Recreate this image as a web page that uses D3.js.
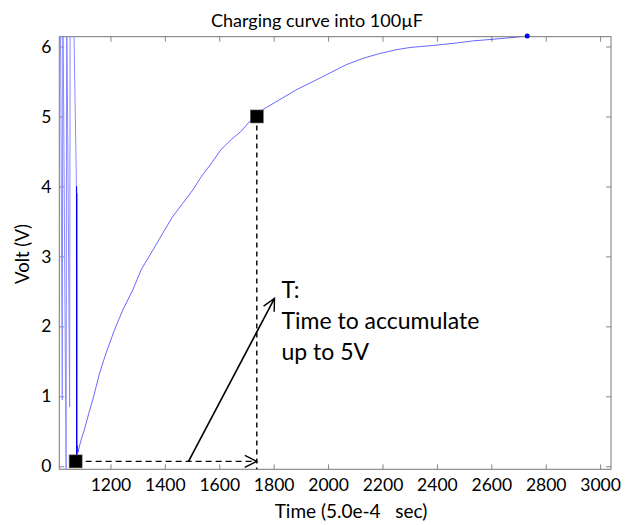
<!DOCTYPE html>
<html>
<head>
<meta charset="utf-8">
<script src="https://cdn.jsdelivr.net/npm/d3@7"></script>
<style>
body{margin:0;background:#fff}
text{font-family:Lato, "Open Sans", sans-serif;fill:#000}
</style>
</head>
<body>
<svg id="chart" width="634" height="525"></svg>
<script>
// data: [time, volt]
var burst = [[1012,5.3],[1016,6.9],[1023,0.95],[1025,6.9],[1037,-0.1],[1039,6.9],[1050,0.85],[1052,6.9],[1063,6.9],[1075,4.0]]
var settle = [[1075,4.0],[1075.3,0.1],[1075.6,4.0],[1075.9,0.1],[1076.2,3.9],[1076.5,0.12]]
var charge = [[1076.5,0.12],[1078,0.3],[1081,0.2],[1090,0.35],[1104,0.52],[1120,0.75],[1135,0.95],[1160,1.33],
    [1184,1.62],[1215,1.95],[1245,2.23],[1282,2.52],[1313,2.81],[1356,3.09],[1392,3.33],[1429,3.57],[1466,3.76],
    [1503,3.95],[1534,4.14],[1571,4.33],[1607,4.53],[1644,4.67],[1681,4.79],[1712,4.93],[1736,5.0],[1761,5.10],
    [1822,5.24],[1883,5.38],[1945,5.50],[2006,5.62],[2067,5.74],[2128,5.83],[2190,5.90],[2252,5.955],[2300,5.985],
    [2386,6.015],[2472,6.05],[2533,6.08],[2595,6.10],[2656,6.12],[2732,6.15]]
var marks = [[1072,0.07],[1738,5.0]]
var xticks = [1200,1400,1600,1800,2000,2200,2400,2600,2800,3000]
var yticks = [0,1,2,3,4,5,6]
var arrowFrom = [1487,0.07], arrowTo = [1803,2.40]
var note = ['T:','Time to accumulate','up to 5V']

var margins={left:59.3, top:36.7, right:23, bottom:55.7}
var svgW=634, svgH=525
var chartW=svgW-margins.left-margins.right
var chartH=svgH-margins.top-margins.bottom

var svg=d3.select('#chart')
var defs=svg.append('defs')
defs.append('clipPath').attr('id','clip').append('rect').attr('width',chartW).attr('height',chartH)
defs.append('marker').attr('id','head').attr('markerUnits','userSpaceOnUse')
    .attr('viewBox','-14 -8 16 16').attr('refX',0).attr('refY',0)
    .attr('markerWidth',16).attr('markerHeight',16).attr('orient','auto')
    .append('path').attr('d','M-12,-6L0,0L-12,6').attr('fill','none').attr('stroke','#000').attr('stroke-width',1.4)

var chart=svg.append('g').attr('transform',`translate(${margins.left},${margins.top})`)

var xscale=d3.scaleLinear().domain([1012,3040]).range([0,chartW])
var yscale=d3.scaleLinear().domain([-0.043,6.14]).range([chartH,0])

// axes with inward ticks on all four sides
function styleAxis(g){
    g.select('.domain').remove()
    g.selectAll('.tick line').attr('stroke','#888')
    g.selectAll('.tick text').style('font-size','17.5px')
}
chart.append('g').attr('transform',`translate(0,${chartH})`)
    .call(d3.axisBottom(xscale).tickValues(xticks).tickSize(-5).tickPadding(9).tickFormat(d3.format('d')))
    .call(styleAxis)
chart.append('g')
    .call(d3.axisTop(xscale).tickValues(xticks).tickSize(-5).tickFormat(''))
    .call(styleAxis)
chart.append('g')
    .call(d3.axisLeft(yscale).tickValues(yticks).tickSize(-5).tickPadding(8).tickFormat(d3.format('d')))
    .call(styleAxis)
chart.append('g').attr('transform',`translate(${chartW},0)`)
    .call(d3.axisRight(yscale).tickValues(yticks).tickSize(-5).tickFormat(''))
    .call(styleAxis)
chart.append('rect').attr('width',chartW).attr('height',chartH)
    .attr('fill','none').attr('stroke','#777').attr('stroke-width',1)

var line=d3.line().x(d=>xscale(d[0])).y(d=>yscale(d[1]))
var plot=chart.append('g').attr('clip-path','url(#clip)')
plot.append('path').attr('d',line(burst)).attr('fill','none').attr('stroke','#8a8aff').attr('stroke-width',1)
plot.append('path').attr('d',line(settle)).attr('fill','none').attr('stroke','#0000ff').attr('stroke-width',0.8)
plot.append('path').attr('d',line(charge)).attr('fill','none').attr('stroke','#0000ff').attr('stroke-width',0.6)
var last=charge[charge.length-1]
chart.append('circle').attr('cx',xscale(last[0])).attr('cy',yscale(last[1])).attr('r',2.5).attr('fill','#0000ff')

// annotation
chart.append('line').attr('x1',xscale(marks[0][0])).attr('y1',yscale(marks[0][1]))
    .attr('x2',xscale(marks[1][0])).attr('y2',yscale(marks[0][1]))
    .attr('stroke','#000').attr('stroke-width',1.4).attr('stroke-dasharray','6,4')
    .attr('marker-end','url(#head)')
chart.append('line').attr('x1',xscale(marks[1][0])).attr('y1',yscale(marks[1][1]))
    .attr('x2',xscale(marks[1][0])).attr('y2',chartH)
    .attr('stroke','#000').attr('stroke-width',1.4).attr('stroke-dasharray','5,4')
chart.append('line').attr('x1',xscale(arrowFrom[0])).attr('y1',yscale(arrowFrom[1]))
    .attr('x2',xscale(arrowTo[0])).attr('y2',yscale(arrowTo[1]))
    .attr('stroke','#000').attr('stroke-width',1.6).attr('marker-end','url(#head)')
chart.selectAll('rect.mk').data(marks).enter().append('rect').attr('class','mk')
    .attr('x',d=>xscale(d[0])-6.5).attr('y',d=>yscale(d[1])-6.5)
    .attr('width',13).attr('height',13).attr('fill','#000').attr('stroke','#666').attr('stroke-width',0.6)

chart.append('text').attr('x',xscale(arrowTo[0])+7).attr('y',yscale(arrowTo[1]))
    .style('font-size','23px')
    .selectAll('tspan').data(note).enter().append('tspan')
    .attr('x',xscale(arrowTo[0])+7).attr('dy',(d,i)=>i==0?0:31).text(d=>d)

// titles
svg.append('text').attr('x',317).attr('y',27).attr('text-anchor','middle')
    .style('font-size','18px').text('Charging curve into 100µF')
svg.append('text').attr('x',351).attr('y',518).attr('text-anchor','middle')
    .style('font-size','19px').attr('xml:space','preserve').text('Time (5.0e-4   sec)')
svg.append('text').attr('transform','translate(29,254) rotate(-90)').attr('text-anchor','middle')
    .style('font-size','18.5px').text('Volt (V)')
</script>
</body>
</html>
